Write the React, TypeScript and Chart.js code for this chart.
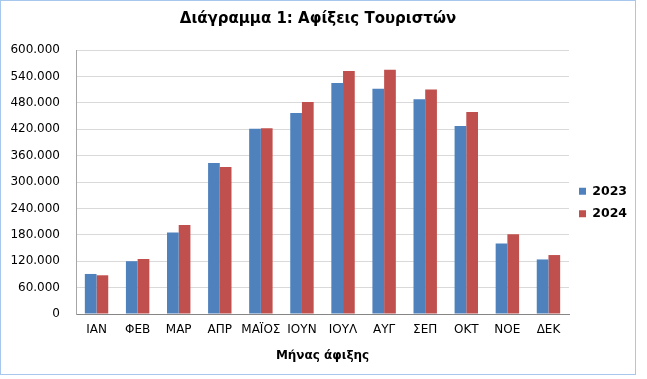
import React, { useEffect, useRef } from "react";
import { Chart, registerables } from "chart.js";

Chart.register(...registerables);

const months = ["ΙΑΝ", "ΦΕΒ", "ΜΑΡ", "ΑΠΡ", "ΜΑΪΟΣ", "ΙΟΥΝ", "ΙΟΥΛ", "ΑΥΓ", "ΣΕΠ", "ΟΚΤ", "ΝΟΕ", "ΔΕΚ"];
const arrivals2023 = [91000, 120000, 185000, 343000, 421000, 457000, 525000, 512000, 488000, 427000, 160000, 124000];
const arrivals2024 = [88000, 125000, 202000, 334000, 422000, 482000, 552000, 555000, 510000, 459000, 181000, 134000];
const seriesNames = ["2023", "2024"];
const yMax = 600000;
const yStep = 60000;

const chartTitle = "Διάγραμμα 1: Αφίξεις Τουριστών";
const xTitle = "Μήνας άφιξης";

function fmt(v: number): string {
  return String(Math.round(v)).replace(/\B(?=(\d{3})+(?!\d))/g, ".");
}

export default function App() {
  const ref = useRef<HTMLCanvasElement | null>(null);

  useEffect(() => {
    if (!ref.current) return;
    const font = "'DejaVu Sans', Verdana, sans-serif";
    const chart = new Chart(ref.current, {
      type: "bar",
      data: {
        labels: months,
        datasets: [
          {
            label: seriesNames[0],
            data: arrivals2023,
            backgroundColor: "#4F81BD",
            categoryPercentage: 0.57,
            barPercentage: 1.0,
          },
          {
            label: seriesNames[1],
            data: arrivals2024,
            backgroundColor: "#C0504D",
            categoryPercentage: 0.57,
            barPercentage: 1.0,
          },
        ],
      },
      options: {
        animation: false,
        responsive: false,
        maintainAspectRatio: false,
        layout: { padding: 0 },
        plugins: {
          title: {
            display: true,
            text: chartTitle,
            color: "#000",
            font: { family: font, size: 15, weight: "bold" },
            padding: { top: 9, bottom: 22 },
          },
          legend: {
            position: "right",
            maxWidth: 66,
            title: { display: true, text: "", padding: 7.8, font: { size: 12 } },
            labels: {
              boxWidth: 7,
              boxHeight: 7,
              padding: 10,
              color: "#000",
              font: { family: font, size: 12.5, weight: "bold" },
            },
          },
          tooltip: { enabled: false },
        },
        scales: {
          x: {
            grid: { display: false, drawTicks: false },
            border: { display: true, color: "#868686", width: 1 },
            ticks: {
              color: "#000",
              font: { family: font, size: 12 },
              autoSkip: false,
              maxRotation: 0,
              minRotation: 0,
              padding: 9,
            },
            title: {
              display: true,
              text: xTitle,
              color: "#000",
              font: { family: font, size: 12, weight: "bold" },
              padding: { top: 0, bottom: 11 },
            },
            afterFit: (s: any) => {
              s.height = 60;
            },
          },
          y: {
            min: 0,
            max: yMax,
            grid: { color: "#D9D9D9", drawTicks: false, lineWidth: 1 },
            border: { display: true, color: "#A6A6A6", width: 1 },
            ticks: {
              stepSize: yStep,
              color: "#000",
              font: { family: font, size: 12 },
              padding: 16,
              callback: (v: any) => fmt(Number(v)),
            },
            afterFit: (s: any) => {
              s.width = 75;
            },
          },
        },
      },
    });
    return () => chart.destroy();
  }, []);

  return (
    <div style={{ position: "fixed", left: 0, top: 0, width: 647, height: 379, background: "#fff" }}>
      <div
        style={{
          position: "absolute",
          left: 0,
          top: 0,
          width: 636,
          height: 375,
          border: "1px solid #A7C7EC",
          boxSizing: "border-box",
          background: "#fff",
        }}
      >
        <canvas ref={ref} width={634} height={373} style={{ display: "block", width: 634, height: 373 }} />
      </div>
    </div>
  );
}
